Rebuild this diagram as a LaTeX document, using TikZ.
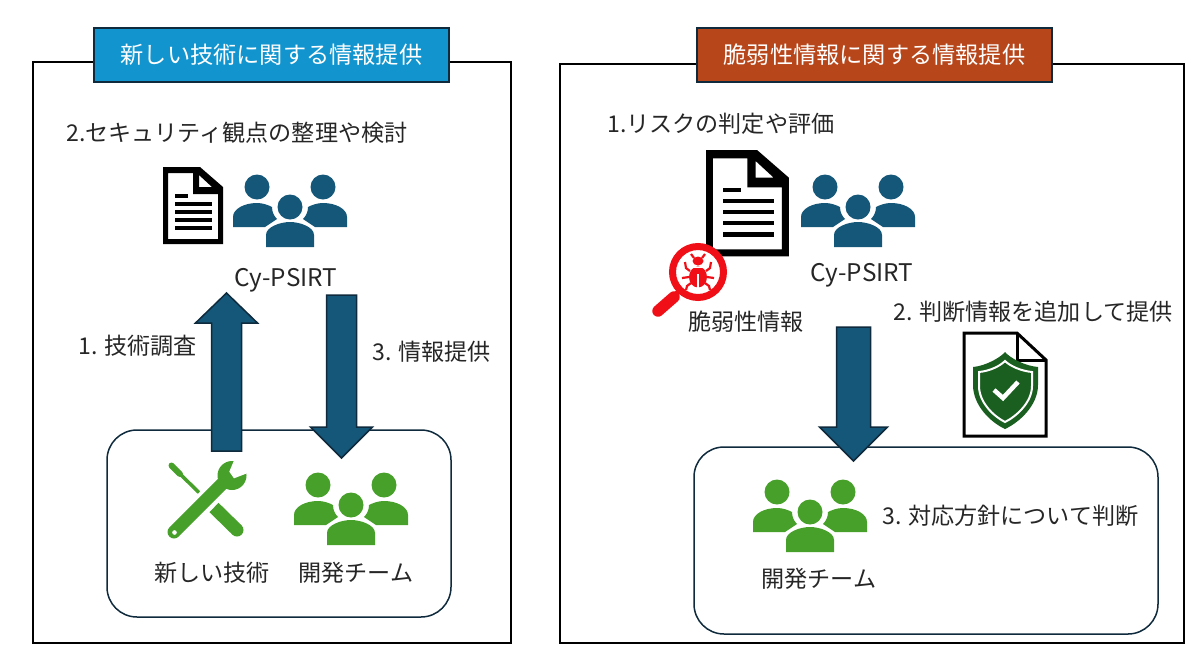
\documentclass[tikz,border=0pt]{standalone}
\usepackage{fontspec}
\usepackage{xcolor}
\usetikzlibrary{calc}
\setmainfont{Noto Sans CJK JP}

\definecolor{psirtblue}{HTML}{155778}
\definecolor{teamgreen}{HTML}{46A02A}
\definecolor{titleblue}{HTML}{1295CF}
\definecolor{titlered}{HTML}{B7461B}
\definecolor{edgedark}{HTML}{0E2A3C}
\definecolor{shieldgreen}{HTML}{1A5E20}
\definecolor{bugred}{HTML}{F00F16}
\definecolor{labelgray}{HTML}{262626}

\tikzset{
	panel/.style={draw=black, line width=2pt, outer sep=0pt, minimum width=#1, anchor=north west},
	titlebox/.style={draw=edgedark, line width=1.5pt, fill=#1, text=white,
			minimum width=355pt, minimum height=54pt, font=\fontsize{23.2}{26}\selectfont},
	teambox/.style={draw=edgedark, line width=1.5pt, outer sep=0pt, rounded corners=30pt, anchor=north west},
	label/.style={text=labelgray, inner sep=0pt, font=\fontsize{23.1}{26}\selectfont},
	psirtlabel/.style={label, font=\fontsize{24.3}{26}\selectfont},
	blockarrow/.style n args={3}{draw=edgedark, line width=1.5pt, fill=psirtblue, to path={
					($(\tikztostart)!#2!90:(\tikztotarget)$)
					-- ($($(\tikztotarget)!#1!(\tikztostart)$)!#2!90:(\tikztotarget)$)
					-- ($($(\tikztotarget)!#1!(\tikztostart)$)!#3!90:(\tikztotarget)$)
					-- (\tikztotarget)
					-- ($($(\tikztotarget)!#1!(\tikztostart)$)!#3!-90:(\tikztotarget)$)
					-- ($($(\tikztotarget)!#1!(\tikztostart)$)!#2!-90:(\tikztotarget)$)
					-- ($(\tikztostart)!#2!-90:(\tikztotarget)$) -- cycle
				}},
	pics/people/.style={code={
				\fill[#1] (-33,-24) circle (12.5) (33,-24) circle (12.5) (0,-4) circle (12.5);
				\fill[#1] (-24,36) -- (-24,24) .. controls (-24,16) and (-10,11) .. (0,11)
				.. controls (10,11) and (24,16) .. (24,24) -- (24,36) -- cycle;
				\fill[#1] (-57,16) -- (-57,6) .. controls (-57,-2) and (-46,-8) .. (-33,-8)
				.. controls (-27,-8) and (-22,-6) .. (-18,-4)
				.. controls (-18,1) and (-16,5) .. (-13,8) -- (-25,16) -- cycle;
				\fill[#1] (57,16) -- (57,6) .. controls (57,-2) and (46,-8) .. (33,-8)
				.. controls (27,-8) and (22,-6) .. (18,-4)
				.. controls (18,1) and (16,5) .. (13,8) -- (25,16) -- cycle;
			}},
	pics/sheet/.style={code={
				\fill[black, even odd rule] (0,0) -- (37,0) -- (60,20) -- (60,77) -- (0,77) -- cycle
				(5,6) -- (30,6) -- (30,27) -- (55,27) -- (55,72) -- (5,72) -- cycle
				(36,8) -- (49,20) -- (36,20) -- cycle;
				\fill[black] (12,27.3) rectangle (25,30.7);
				\foreach \liney in {37,45,53,61}{
						\fill[black] (12,\liney-1.7) rectangle (49,\liney+1.7);
					}
			}}
}

\begin{document}
\begin{tikzpicture}[x=1pt, y=-1pt]
	\useasboundingbox (0,0) rectangle (1200,657);

	% left side
	\node[panel=478pt, minimum height=581pt] (techpanel) at (33,62) {};
	\node[titlebox=titleblue] (techtitle) at (271.5,55) {新しい技術に関する情報提供};
	\node[label, anchor=west] (techreview) at (66,133) {2.セキュリティ観点の整理や検討};
	\pic at (163,167) {sheet};
	\pic at (290,211) {people=psirtblue};
	\node[psirtlabel] (techpsirt) at (286,280) {Cy-PSIRT};
	\node[label, anchor=west] (techsurvey) at (78,346) {1. 技術調査};
	\node[label, anchor=west] (techinfo) at (372,352) {3. 情報提供};
	\node[teambox, minimum width=344pt, minimum height=187pt] (techteam) at (107,430) {};

	\coordinate (upfoot) at (226.5,451);
	\coordinate (uptip) at (226.5,293);
	\coordinate (downfoot) at (341.5,295);
	\coordinate (downtip) at (341.5,458);
	\draw[blockarrow={30pt}{15pt}{31pt}] (upfoot) to (uptip);
	\draw[blockarrow={31pt}{15pt}{31pt}] (downfoot) to (downtip);

	% wrench and screwdriver
	\draw[teamgreen, line width=6pt, line cap=round] (171.5,465.5) -- (180,474);
	\draw[teamgreen, line width=3.5pt] (178,472) -- (199,492.5);
	\draw[teamgreen, line width=13pt] (214,507.5) -- (237,530);
	\fill[teamgreen] (237,530) circle (6.5);
	\draw[teamgreen, line width=13pt, line cap=round] (174,532) -- (224,482);
	\fill[teamgreen] (232,475.5) circle (14.5);
	\fill[white] (235,458) -- (229.3,471.7) -- (234,478.3) -- (247,473.3) -- (250,458) -- cycle;
	\fill[white] (174.5,532.5) circle (2.3);
	\node[label] (newtech) at (212,573) {新しい技術};
	\pic at (351,509) {people=teamgreen};
	\node[label] (devteam) at (356,573) {開発チーム};

	% right side
	\node[panel=624pt, minimum height=579pt] (vulnpanel) at (560,64) {};
	\node[titlebox=titlered] (vulntitle) at (874.5,55) {脆弱性情報に関する情報提供};
	\node[label, anchor=west] (vulnrisk) at (607,124) {1.リスクの判定や評価};
	\pic[scale=1.38] at (706,150) {sheet};
	\pic at (858,211) {people=psirtblue};
	\node[psirtlabel] (vulnpsirt) at (862,275) {Cy-PSIRT};

	% magnifier with bug
	\draw[bugred, line width=5pt, line cap=round] (683,288) -- (676,294);
	\draw[bugred, line width=11.5pt, line cap=round] (674,297) -- (658,311);
	\draw[bugred, line width=7pt, fill=white] (698,272) circle (25.5);
	\fill[bugred] (698,277) ellipse (9 and 10.5);
	\fill[bugred] (698,261) ellipse (5.5 and 4.5);
	\draw[white, line width=1.2pt] (698,274) -- (698,288);
	\draw[white, line width=1pt] (689,267) -- (707,267);
	\draw[bugred, line width=2.2pt] (694,258) -- (691,254) (702,258) -- (705,254)
	(690,271) -- (686,268) -- (685,262) (706,271) -- (710,268) -- (711,262)
	(689,277) -- (682,278) (707,277) -- (714,278)
	(691,283) -- (687,286) -- (686,290) (705,283) -- (709,286) -- (710,290);
	\node[label] (vulninfo) at (746,322) {脆弱性情報};

	\node[label, anchor=west] (vulnadd) at (893,312) {2. 判断情報を追加して提供};
	\draw[black, line width=3pt, fill=white] (964,333) -- (1017,333) -- (1046,360) -- (1046,436) -- (964,436) -- cycle;
	\draw[black, line width=3pt] (1017,333) -- (1017,360) -- (1046,360);

	% shield
	\fill[shieldgreen] (1005,352) .. controls (1000,358) and (985,366) .. (973,367)
	-- (973,385) .. controls (973,405) and (990,422) .. (1005,429)
	.. controls (1020,422) and (1038,405) .. (1038,385) -- (1038,367)
	.. controls (1025,366) and (1010,358) .. (1005,352) -- cycle;
	\draw[white, line width=2pt] (1005,361) .. controls (1000,366) and (990,371) .. (979,372)
	-- (979,386) .. controls (979,402) and (993,416) .. (1005,422)
	.. controls (1017,416) and (1032,402) .. (1032,386) -- (1032,372)
	.. controls (1021,371) and (1010,366) .. (1005,361) -- cycle;
	\draw[white, line width=4.5pt] (994,390) -- (1003,398) -- (1018,382);

	\node[teambox, minimum width=464pt, minimum height=187pt] (vulnteam) at (694,447) {};
	\coordinate (vulnfoot) at (853.5,327);
	\coordinate (vulntip) at (853.5,461);
	\draw[blockarrow={34pt}{17pt}{34pt}] (vulnfoot) to (vulntip);
	\pic at (810,516) {people=teamgreen};
	\node[label] (vulndev) at (819,579) {開発チーム};
	\node[label, anchor=west] (vulnplan) at (882,516) {3. 対応方針について判断};

\end{tikzpicture}
\end{document}
